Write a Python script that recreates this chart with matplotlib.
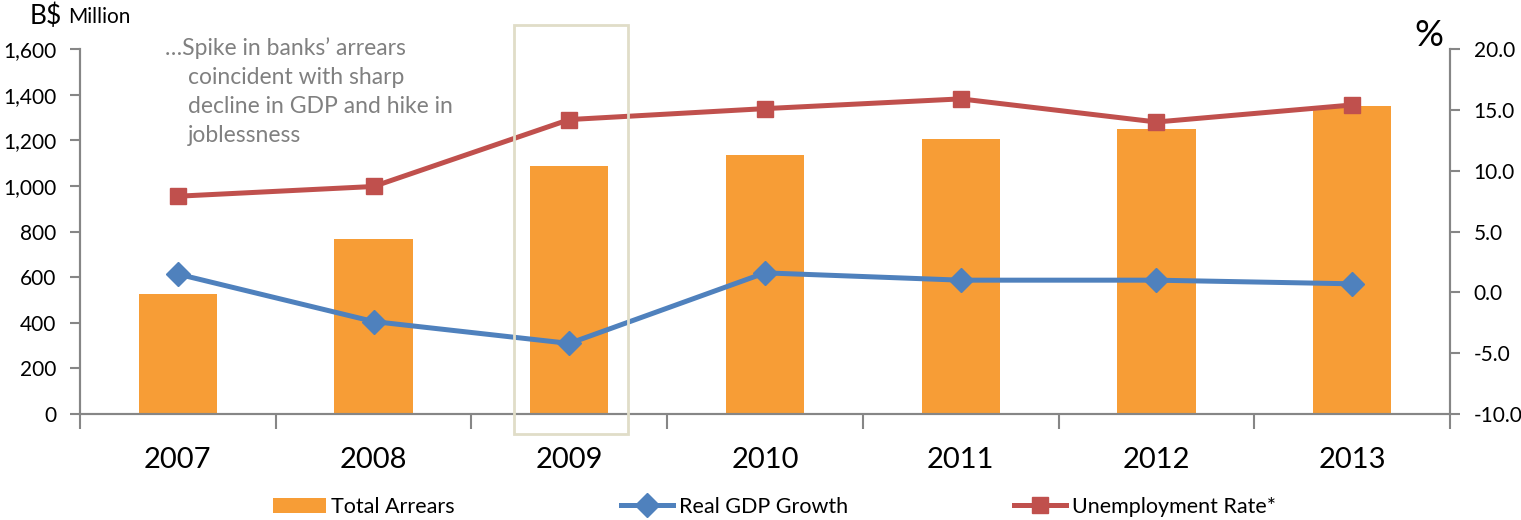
import matplotlib.pyplot as plt
import numpy as np
from matplotlib.patches import Rectangle
from matplotlib.ticker import FuncFormatter

plt.rcParams['font.family'] = ['Lato', 'DejaVu Sans']

years = ['2007', '2008', '2009', '2010', '2011', '2012', '2013']
arrears = [528, 765, 1088, 1137, 1206, 1250, 1350]
gdp_growth = [1.5, -2.4, -4.2, 1.6, 1.0, 1.0, 0.7]
unemployment = [7.9, 8.7, 14.2, 15.1, 15.9, 14.0, 15.4]

orange = '#F79D36'
blue = '#4F81BD'
red = '#C0504D'
grey = '#868686'

fig = plt.figure(figsize=(15.21, 5.2), dpi=100)
ax = fig.add_axes([80 / 1521, 1 - 414 / 520, 1370 / 1521, 365 / 520])
ax2 = ax.twinx()

x = np.arange(len(years))
b = ax.bar(x, arrears, width=0.4, color=orange, label='Total Arrears', zorder=2)
ax.set_xlim(-0.5, len(years) - 0.5)
ax.set_ylim(0, 1600)
ax.set_yticks(np.arange(0, 1601, 200))
ax.yaxis.set_major_formatter(FuncFormatter(lambda v, p: f'{v:,.0f}'))

l1, = ax2.plot(x, gdp_growth, color=blue, lw=3.6, marker='D', markersize=12,
               label='Real GDP Growth', zorder=3)
l2, = ax2.plot(x, unemployment, color=red, lw=3.6, marker='s', markersize=12,
               label='Unemployment Rate*', zorder=3)
ax2.set_ylim(-10, 20)
ax2.set_yticks(np.arange(-10, 21, 5))
ax2.yaxis.set_major_formatter(FuncFormatter(lambda v, p: f'{v:.1f}'))

# category ticks at boundaries, labels in the middle
ax.set_xticks(np.arange(-0.5, len(years), 1.0))
ax.set_xticklabels([])
ax.set_xticks(x, minor=True)
ax.set_xticklabels(years, minor=True, fontsize=21,
                   family=['Liberation Sans Narrow', 'Lato', 'DejaVu Sans'])
ax.tick_params(axis='x', which='major', length=11, color=grey, width=1.5)
ax.tick_params(axis='x', which='minor', length=0, pad=24)
ax.tick_params(axis='y', length=7, color=grey, width=1.5, labelsize=15, pad=10)
ax2.tick_params(axis='y', length=7, color=grey, width=1.5, labelsize=15, pad=10)

for a in (ax, ax2):
    a.spines['top'].set_visible(False)
    for s in ('left', 'right', 'bottom'):
        a.spines[s].set_color(grey)
        a.spines[s].set_linewidth(1.5)

# highlight box around 2009
fig.add_artist(Rectangle((514 / 1521, 1 - 434 / 520), 114 / 1521, 409 / 520,
                         transform=fig.transFigure, fill=False,
                         edgecolor='#E0DDC8', lw=2, zorder=5))

fig.text(30 / 1521, 1 - 16 / 520, 'B$', fontsize=19, va='center', ha='left')
fig.text(68 / 1521, 1 - 17 / 520, 'Million', fontsize=15, va='center', ha='left')
fig.text(1429 / 1521, 1 - 36 / 520, '%', fontsize=26, va='center', ha='center')

note = ['\u2026Spike in banks\u2019 arrears', 'coincident with sharp',
        'decline in GDP and hike in', 'joblessness']
note_y = [48, 78, 107, 135]
for i, (line, yy) in enumerate(zip(note, note_y)):
    fig.text((165 if i == 0 else 188) / 1521, 1 - yy / 520, line,
             fontsize=16.5, color='#808080', va='center', ha='left')

fig.legend(handles=[b, l1, l2], loc='center',
           bbox_to_anchor=(0.5 + 14 / 1521, 1 - 507 / 520),
           ncol=3, frameon=False, fontsize=15.5, handlelength=2.45,
           handletextpad=0.25, columnspacing=7.7)

plt.savefig('out.png', dpi=100)
